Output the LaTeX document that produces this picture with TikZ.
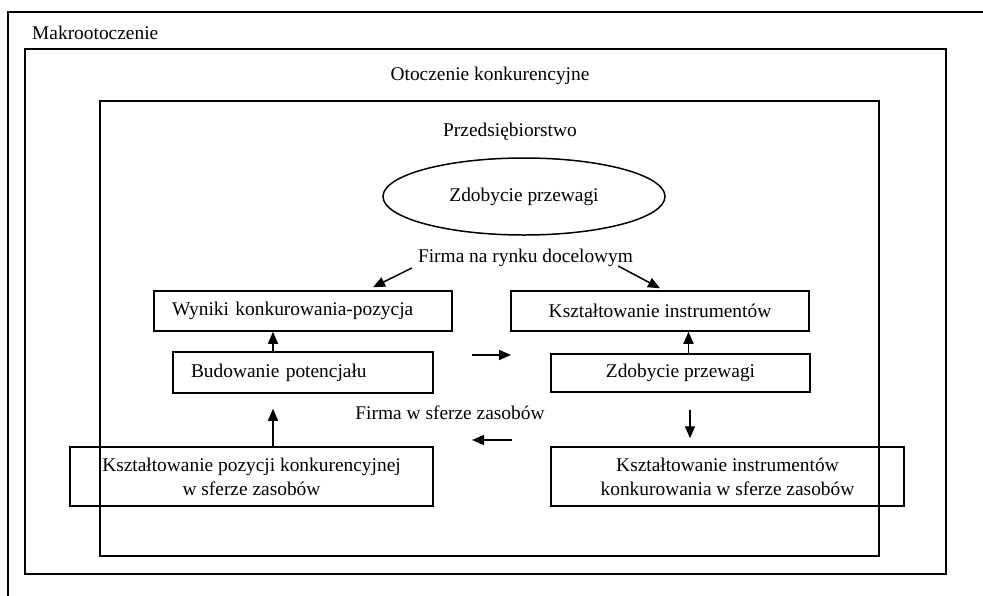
\documentclass[tikz,border=0pt]{standalone}
\usepackage{fontspec}
\setmainfont{Liberation Serif}
\usetikzlibrary{arrows.meta,shapes.geometric}

\begin{document}
\begin{tikzpicture}[x=1pt,y=-1pt,font=\fontsize{19.4}{24}\selectfont,
  frame/.style={draw,line width=1.5pt},
  box/.style={draw,line width=1.5pt,inner sep=0pt,minimum height=40pt},
  lbox/.style={box,align=left,inner xsep=18pt,text width=#1},
  lbl/.style={inner sep=0pt},
  arr/.style={-{Triangle[length=12pt,width=10pt]},line width=1.5pt}]
\useasboundingbox (0,0) rectangle (983,595);
\draw[frame] (8,600) -- (8,12) -- (990,12);
\draw[frame] (25,49) rectangle (946,574);
\draw[frame] (100,101) rectangle (879,556);
\node[lbl,anchor=west] (makro) at (32,33) {Makrootoczenie};
\node[lbl] (otocz) at (490,76) {Otoczenie konkurencyjne};
\node[lbl] (przeds) at (510,132) {Przedsiębiorstwo};
\node[draw,ellipse,line width=1.5pt,inner sep=0pt,minimum width=282pt,minimum height=77pt] (cel) at (524,196.5) {Zdobycie przewagi};
\node[lbl] (rynek) at (525.5,258) {Firma na rynku docelowym};
\node[lbox=262pt] (wyniki) at (303,311) {Wyniki konkurowania-pozycja};
\node[box,minimum width=298pt] (instr) at (660,311) {Kształtowanie instrumentów};
\node[lbox=224pt,minimum height=41pt] (potenc) at (303,372.5) {Budowanie potencjału};
\node[box,minimum width=259pt,minimum height=38pt] (przewaga) at (680.5,373) {Zdobycie przewagi};
\node[lbl] (zasoby) at (450,413) {Firma w sferze zasobów};
\node[box,align=center,minimum width=363pt,minimum height=59pt] (pozycja) at (251.5,476.5) {Kształtowanie pozycji konkurencyjnej\\w sferze zasobów};
\node[box,align=center,minimum width=353pt,minimum height=59pt] (instrzas) at (727.5,476.5) {Kształtowanie instrumentów\\konkurowania w sferze zasobów};
\coordinate (p1) at (472,355);
\coordinate (p2) at (511,355);
\coordinate (z1) at (512,440);
\coordinate (z2) at (472,440);
\draw[arr] ([xshift=-30pt]potenc.north) -- ([xshift=-30pt]wyniki.south);
\draw[arr] ([xshift=21.5pt]pozycja.north) -- ([xshift=-30pt,yshift=-15pt]potenc.south);
\draw[arr] ([xshift=8pt]przewaga.north) -- ([xshift=28.5pt]instr.south);
\draw[arr] ([xshift=9.5pt,yshift=-17pt]przewaga.south) -- ([xshift=-37.5pt,yshift=8pt]instrzas.north);
\draw[arr] ([xshift=-6pt,yshift=-10pt]rynek.west) -- ([xshift=70pt,yshift=3pt]wyniki.north);
\draw[arr] ([xshift=-15pt,yshift=-8pt]rynek.east) -- ([yshift=2pt]instr.north);
\draw[arr] (p1) -- (p2);
\draw[arr] (z1) -- (z2);
\end{tikzpicture}
\end{document}
